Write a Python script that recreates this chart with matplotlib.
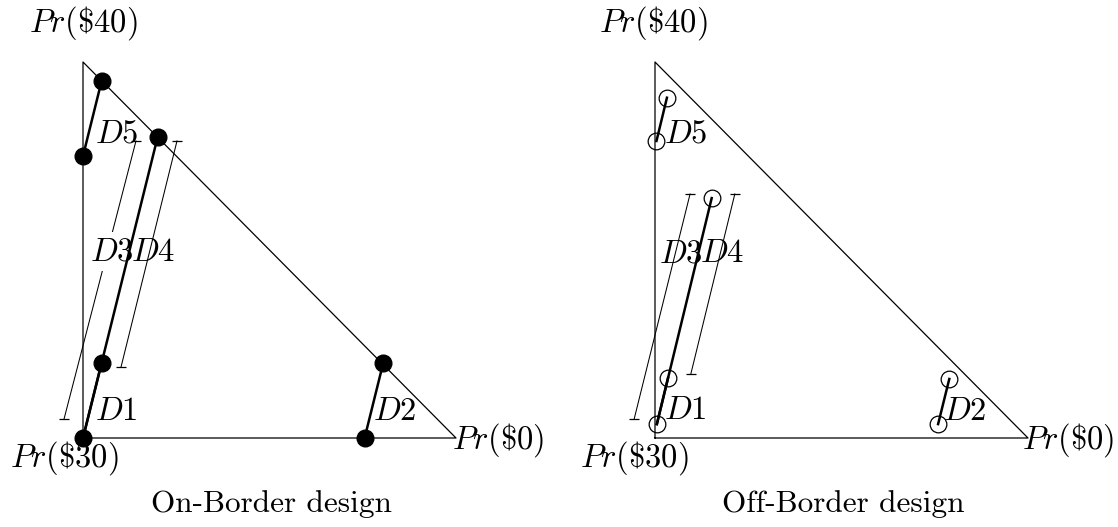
import numpy as np
import matplotlib
matplotlib.use("Agg")
import matplotlib.pyplot as plt

plt.rcParams["mathtext.fontset"] = "cm"

# triangle corners (x = Pr($0), y = Pr($40))
tri_x = [0.0, 0.0, 1.0, 0.0]
tri_y = [0.0, 1.0, 0.0, 0.0]
corner_labels = [r"$Pr(\$40)$", r"$Pr(\$30)$", r"$Pr(\$0)$"]

# on-border design: (x0, y0, x1, y1) of each decision line
on_lines = {"D1": [0.0, 0.0, 0.05, 0.2],
            "D2": [0.755, 0.0, 0.805, 0.2],
            "D34": [0.0, 0.0, 0.2, 0.8],
            "D5": [0.0, 0.75, 0.05, 0.95]}
on_pts_x = [0.0, 0.05, 0.2, 0.755, 0.805, 0.0, 0.05]
on_pts_y = [0.0, 0.2, 0.8, 0.0, 0.2, 0.75, 0.95]
on_thin = [[-0.051, 0.05, 0.142, 0.79],
           [0.102, 0.189, 0.252, 0.79]]

# off-border design
off_lines = {"D1": [0.005, 0.037, 0.035, 0.16],
             "D2": [0.759, 0.037, 0.789, 0.157],
             "D34": [0.005, 0.037, 0.152, 0.638],
             "D5": [0.004, 0.79, 0.032, 0.905]}
off_pts_x = [0.005, 0.035, 0.152, 0.759, 0.789, 0.004, 0.032]
off_pts_y = [0.037, 0.16, 0.638, 0.037, 0.157, 0.79, 0.905]
off_thin = [[-0.056, 0.05, 0.094, 0.649],
            [0.096, 0.17, 0.214, 0.649]]

fs = 23.5

fig = plt.figure(figsize=(11.18, 5.27), dpi=100)


def draw_panel(ax, lines, px, py, thin, filled, title, lab_pos, gap):
    ax.plot(tri_x, tri_y, color="black", lw=0.9, zorder=1)
    for x0, y0, x1, y1 in thin:
        ax.plot([x0, x1], [y0, y1], color="black", lw=0.75, zorder=2)
        ax.plot([x0, x1], [y0, y1], ls="none", marker="_", ms=7, mew=0.9,
                color="black", zorder=2)
    for k in lines:
        x0, y0, x1, y1 = lines[k]
        ax.plot([x0, x1], [y0, y1], color="black", lw=1.8, zorder=4)
    if filled:
        ax.plot(px, py, ls="none", marker="o", ms=12, color="black", zorder=5)
    else:
        ax.plot(px, py, ls="none", marker="o", ms=12, mfc="none", mec="black",
                mew=0.9, zorder=5)

    # corner labels
    ax.text(lab_pos["c40"], 1.08, corner_labels[0], fontsize=fs, ha="center", va="baseline")
    ax.text(lab_pos["c30"], -0.077, corner_labels[1], fontsize=fs, ha="center", va="baseline")
    ax.text(lab_pos["c0"], -0.027, corner_labels[2], fontsize=fs, ha="left", va="baseline")

    # decision labels
    ax.text(lab_pos["D5"][0], lab_pos["D5"][1], r"$D5$", fontsize=fs, va="baseline", zorder=6)
    ax.text(lab_pos["D1"][0], lab_pos["D1"][1], r"$D1$", fontsize=fs, va="baseline", zorder=6)
    ax.text(lab_pos["D2"][0], lab_pos["D2"][1], r"$D2$", fontsize=fs, va="baseline", zorder=6)
    bb = None
    if gap:
        bb = dict(boxstyle="square,pad=0.1", fc="white", ec="none")
    ax.text(lab_pos["D3"][0], lab_pos["D3"][1], r"$D3$", fontsize=fs, va="baseline",
            bbox=bb, zorder=3)
    ax.text(lab_pos["D4"][0], lab_pos["D4"][1], r"$D4$", fontsize=fs, va="baseline", zorder=6)

    ax.text(0.505, -0.197, title, fontsize=22.5, family="cmr10", ha="center", va="baseline")

    ax.set_xlim(-0.2, 1.25)
    ax.set_ylim(-0.2, 1.15)
    ax.axis("off")


# axes placed so that 1 unit ~ 373 px across, 376 px up
w = 1.45 * 373 / 1118
h = 1.35 * 376 / 527
ax1 = fig.add_axes([(83 - 0.2 * 373) / 1118, (527 - 438 - 0.2 * 376) / 527, w, h])
ax2 = fig.add_axes([(655 - 0.2 * 373) / 1118, (527 - 438 - 0.2 * 376) / 527, w, h])

pos1 = {"c40": 0.0, "c30": -0.05, "c0": 0.99,
        "D5": (0.032, 0.787), "D1": (0.032, 0.048), "D2": (0.778, 0.048),
        "D3": (0.019, 0.471), "D4": (0.128, 0.471)}
pos2 = {"c40": -0.005, "c30": -0.056, "c0": 0.984,
        "D5": (0.024, 0.787), "D1": (0.024, 0.05), "D2": (0.773, 0.048),
        "D3": (0.011, 0.468), "D4": (0.12, 0.468)}

draw_panel(ax1, on_lines, on_pts_x, on_pts_y, on_thin, True, "On-Border design", pos1, True)
draw_panel(ax2, off_lines, off_pts_x, off_pts_y, off_thin, False, "Off-Border design", pos2, False)

plt.savefig("out.png", dpi=100)
